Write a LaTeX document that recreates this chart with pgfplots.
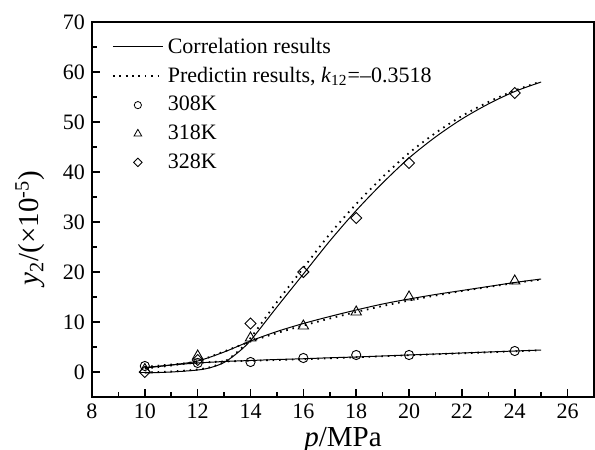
\documentclass[border=0pt]{standalone}
\usepackage{fontspec}
\setmainfont{Liberation Serif}
\usepackage{pgfplots}
\pgfplotsset{compat=1.18}
\begin{document}
\begin{tikzpicture}
\begin{axis}[
  scale only axis,
  width=251pt, height=187.5pt,
  xmin=8, xmax=27, ymin=-5, ymax=70,
  xtick={8,10,...,26}, ytick={0,10,...,70},
  minor x tick num=1, minor y tick num=1,
  xtick pos=bottom, ytick pos=left,
  tick align=inside,
  major tick length=4pt, minor tick length=2.5pt,
  axis line style={line width=1pt},
  every tick/.style={line width=0.8pt, black},
  /pgf/number format/assume math mode=true,
  tick label style={font=\fontsize{11}{13}\selectfont},
  xlabel={\textit{p}/MPa},
  ylabel={\textit{y}\textsubscript{2}/(×10\textsuperscript{-5})},
  label style={font=\fontsize{14.5}{16}\selectfont},
  xlabel style={at={(axis description cs:0.5,-0.115)}, anchor=center},
  ylabel style={at={(axis description cs:-0.123,0.45)}, anchor=center},
  legend image code/.code={\draw[mark repeat=2,mark phase=2,#1] plot coordinates {(0pt,0pt) (12.5pt,0pt) (25pt,0pt)};},
  legend style={draw=none, fill=none, at={(axis description cs:0.035,0.975)}, anchor=north west,
    font=\fontsize{11}{13}\selectfont, row sep=1.5pt, inner sep=1pt},
  legend cell align=left,
  every axis plot/.append style={black},
]
% 308K correlation
\addplot[smooth, line width=0.5pt] coordinates {(10,0.9) (11,1.4) (12,1.8) (13,2.1) (14,2.3) (15,2.5) (16,2.65) (17,2.85) (18,3.0) (19,3.2) (20,3.4) (21,3.6) (22,3.8) (23,4.0) (24,4.2) (25,4.4)};
\addlegendentry{Correlation results}
% 308K prediction
\addplot[smooth, line width=0.9pt, dash pattern=on 0.8pt off 2.4pt] coordinates {(10,1.0) (11,1.5) (12,1.85) (13,2.1) (14,2.25) (15,2.4) (16,2.55) (17,2.75) (18,2.95) (19,3.15) (20,3.35) (21,3.55) (22,3.75) (23,3.95) (24,4.15) (25,4.35)};
\addlegendentry{Predictin results, \textit{k}\textsubscript{12}=–0.3518}
\addlegendimage{only marks, mark=o, mark size=1.8pt, line width=0.4pt}
\addlegendentry{308K}
\addlegendimage{only marks, mark=triangle, mark size=2.2pt, line width=0.4pt}
\addlegendentry{318K}
\addlegendimage{only marks, mark=square, mark size=1.5pt, line width=0.4pt, mark options={rotate=45}}
\addlegendentry{328K}
% markers
\addplot[only marks, mark=o, mark size=2.3pt, line width=0.45pt, forget plot] coordinates {(10,1.2) (12,1.8) (14,2.0) (16,2.8) (18,3.4) (20,3.4) (24,4.2)};
\addplot[only marks, mark=triangle, mark size=3pt, line width=0.45pt, forget plot] coordinates {(10,0.5) (12,3.2) (14,6.8) (16,9.2) (18,12.0) (20,15.0) (24,18.2)};
\addplot[only marks, mark=square, mark size=1.95pt, line width=0.45pt, mark options={rotate=45}, forget plot] coordinates {(10,0.0) (12,2.4) (14,9.7) (16,20.0) (18,30.8) (20,41.8) (24,55.8)};
% 318K correlation
\addplot[smooth, line width=0.5pt, forget plot] coordinates {(10,0.8) (11,1.4) (12,2.2) (13,4.0) (14,6.2) (15,8.1) (16,9.7) (17,11.1) (18,12.4) (19,13.6) (20,14.6) (21,15.5) (22,16.3) (23,17.1) (24,17.9) (25,18.6)};
\addplot[smooth, line width=0.9pt, dash pattern=on 0.8pt off 2.4pt, forget plot] coordinates {(10,0.7) (11,1.3) (12,2.2) (13,4.1) (14,6.1) (15,7.8) (16,9.3) (17,10.7) (18,12.0) (19,13.2) (20,14.3) (21,15.3) (22,16.2) (23,17.0) (24,17.8) (25,18.5)};
% 328K correlation
\addplot[smooth, line width=0.5pt, forget plot] coordinates {(10,-0.2) (11,0.0) (12,0.4) (12.5,0.9) (13,1.9) (13.5,3.8) (14,6.3) (15,13.0) (16,19.6) (17,26.2) (18,32.3) (19,37.8) (20,42.8) (21,47.0) (22,50.6) (23,53.6) (24,56.1) (25,58.0)};
\addplot[smooth, line width=0.9pt, dash pattern=on 0.8pt off 2.4pt, forget plot] coordinates {(10,-0.1) (11,0.1) (12,0.5) (12.5,1.0) (13,2.0) (13.5,4.0) (14,6.8) (15,14.0) (16,20.8) (17,27.6) (18,33.6) (19,39.0) (20,43.8) (21,47.8) (22,51.2) (23,54.0) (24,56.3) (25,58.1)};
\end{axis}
\pgfresetboundingbox
\path[use as bounding box] ([shift={(-46pt,-26.5pt)}]current axis.south west) rectangle ([shift={(0.5pt,11pt)}]current axis.north east);
\end{tikzpicture}
\end{document}
